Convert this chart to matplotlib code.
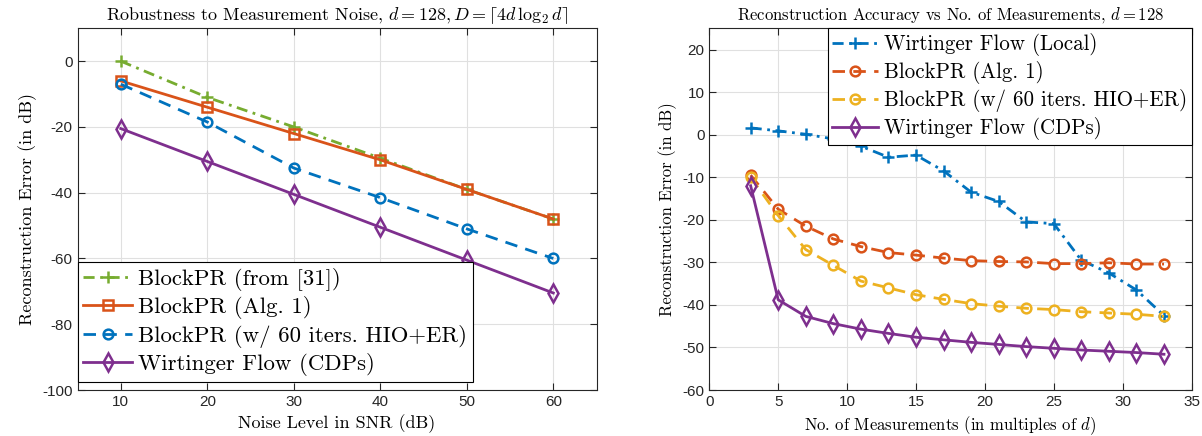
import matplotlib.pyplot as plt
import numpy as np

plt.rcParams['mathtext.fontset'] = 'cm'
plt.rcParams['axes.unicode_minus'] = False

# left panel data
snr = [10, 20, 30, 40, 50, 60]
err_ref31 = [0, -11, -20, -29.5, -39, -48]
err_alg1 = [-6, -14, -22, -30, -39, -48]
err_hio = [-7, -18.5, -32.5, -41.5, -51, -60]
err_wf_cdp = [-20.5, -30.5, -40.5, -50.5, -60.5, -70.5]

# right panel data
meas = [3, 5, 7, 9, 11, 13, 15, 17, 19, 21, 23, 25, 27, 29, 31, 33]
wf_local = [1.6, 0.9, 0.1, -1, -2.7, -5.3, -4.8, -8.5, -13.5, -15.7,
            -20.5, -20.9, -29.5, -32.5, -36.5, -42.5]
alg1 = [-9.5, -17.5, -21.5, -24.5, -26.3, -27.7, -28.3, -29, -29.6, -29.8,
        -29.9, -30.3, -30.3, -30.1, -30.4, -30.4]
hio = [-10, -19, -27, -30.7, -34.4, -36, -37.6, -38.7, -39.7, -40.3,
       -40.8, -41.1, -41.6, -41.9, -42.2, -42.7]
wf_cdp = [-12, -38.8, -42.7, -44.4, -45.7, -46.7, -47.6, -48.2, -48.8, -49.3,
          -49.8, -50.2, -50.6, -50.9, -51.2, -51.6]

blue = '#0072BD'
orange = '#D95319'
yellow = '#EDB120'
purple = '#7E2F8E'
green = '#77AC30'

serif = 'cmr10'
tickfont = 'Liberation Sans'

dash = (4.5, 3)
dashdot = (4, 2, 1, 2)

fig = plt.figure(figsize=(12.02, 4.36), dpi=100)
ax1 = fig.add_axes([0.0645, 0.1055, 0.4318, 0.8296])
ax2 = fig.add_axes([0.5901, 0.1055, 0.4012, 0.8296])

lw = 2.0
ms = 7
mew = 1.8

ax1.plot(snr, err_ref31, color=green, lw=lw, dashes=dashdot, marker='+', ms=9, mew=mew,
         label='BlockPR (from [31])')
ax1.plot(snr, err_alg1, '-', color=orange, lw=lw, marker='s', ms=ms, mew=mew,
         mfc='none', label='BlockPR (Alg. 1)')
ax1.plot(snr, err_hio, color=blue, lw=lw, dashes=dash, marker='o', ms=ms, mew=mew,
         mfc='none', label='BlockPR (w/ 60 iters. HIO+ER)')
ax1.plot(snr, err_wf_cdp, '-', color=purple, lw=lw, marker='d', ms=9, mew=mew,
         mfc='none', label='Wirtinger Flow (CDPs)')
ax1.set_xlim(5, 65)
ax1.set_ylim(-100, 10)
ax1.set_xticks(snr)
ax1.set_yticks(np.arange(-100, 1, 20))
ax1.set_xlabel('Noise Level in SNR (dB)', family=serif, fontsize=13)
ax1.set_ylabel('Reconstruction Error (in dB)', family=serif, fontsize=13)
ax1.set_title(r'Robustness to Measurement Noise, $d = 128, D = \lceil 4d\,\log_2 d\rceil$',
              family=serif, fontsize=13)
leg1 = ax1.legend(loc='lower left', bbox_to_anchor=(0.0, 0.022),
                  prop={'family': serif, 'size': 16.4}, handlelength=2.15,
                  borderaxespad=0.0, borderpad=0.25, labelspacing=0.24,
                  handletextpad=0.26, fancybox=False, edgecolor='black',
                  framealpha=1)

ax2.plot(meas, wf_local, color=blue, lw=lw, dashes=dashdot, marker='+', ms=9, mew=mew,
         label='Wirtinger Flow (Local)')
ax2.plot(meas, alg1, color=orange, lw=lw, dashes=dash, marker='o', ms=ms, mew=mew,
         mfc='none', label='BlockPR (Alg. 1)')
ax2.plot(meas, hio, color=yellow, lw=lw, dashes=dash, marker='o', ms=ms, mew=mew,
         mfc='none', label='BlockPR (w/ 60 iters. HIO+ER)')
ax2.plot(meas, wf_cdp, '-', color=purple, lw=lw, marker='d', ms=9, mew=mew,
         mfc='none', label='Wirtinger Flow (CDPs)')
ax2.set_xlim(0, 35)
ax2.set_ylim(-60, 25)
ax2.set_xticks(np.arange(0, 36, 5))
ax2.set_yticks(np.arange(-60, 21, 10))
ax2.set_xlabel(r'No. of Measurements (in multiples of $d$)', family=serif, fontsize=12)
ax2.set_ylabel('Reconstruction Error (in dB)', family=serif, fontsize=12)
ax2.set_title(r'Reconstruction Accuracy vs No. of Measurements, $d = 128$',
              family=serif, fontsize=12)
leg2 = ax2.legend(loc='upper right', prop={'family': serif, 'size': 15.1},
                  handlelength=2.2, borderaxespad=0.0, borderpad=0.22,
                  labelspacing=0.24, handletextpad=0.26, fancybox=False,
                  edgecolor='black', framealpha=1)

for ax in (ax1, ax2):
    ax.grid(True, color='#e0e0e0', lw=0.8)
    ax.set_axisbelow(True)
    ax.tick_params(direction='in', top=True, right=True, length=5, width=0.8,
                   labelsize=11, color='#262626')
    for lab in ax.get_xticklabels() + ax.get_yticklabels():
        lab.set_family(tickfont)
        lab.set_color('#262626')
    for s in ax.spines.values():
        s.set_color('#262626')
        s.set_linewidth(0.8)

for leg in (leg1, leg2):
    leg.get_frame().set_linewidth(0.8)

plt.savefig('out.png', dpi=100)
